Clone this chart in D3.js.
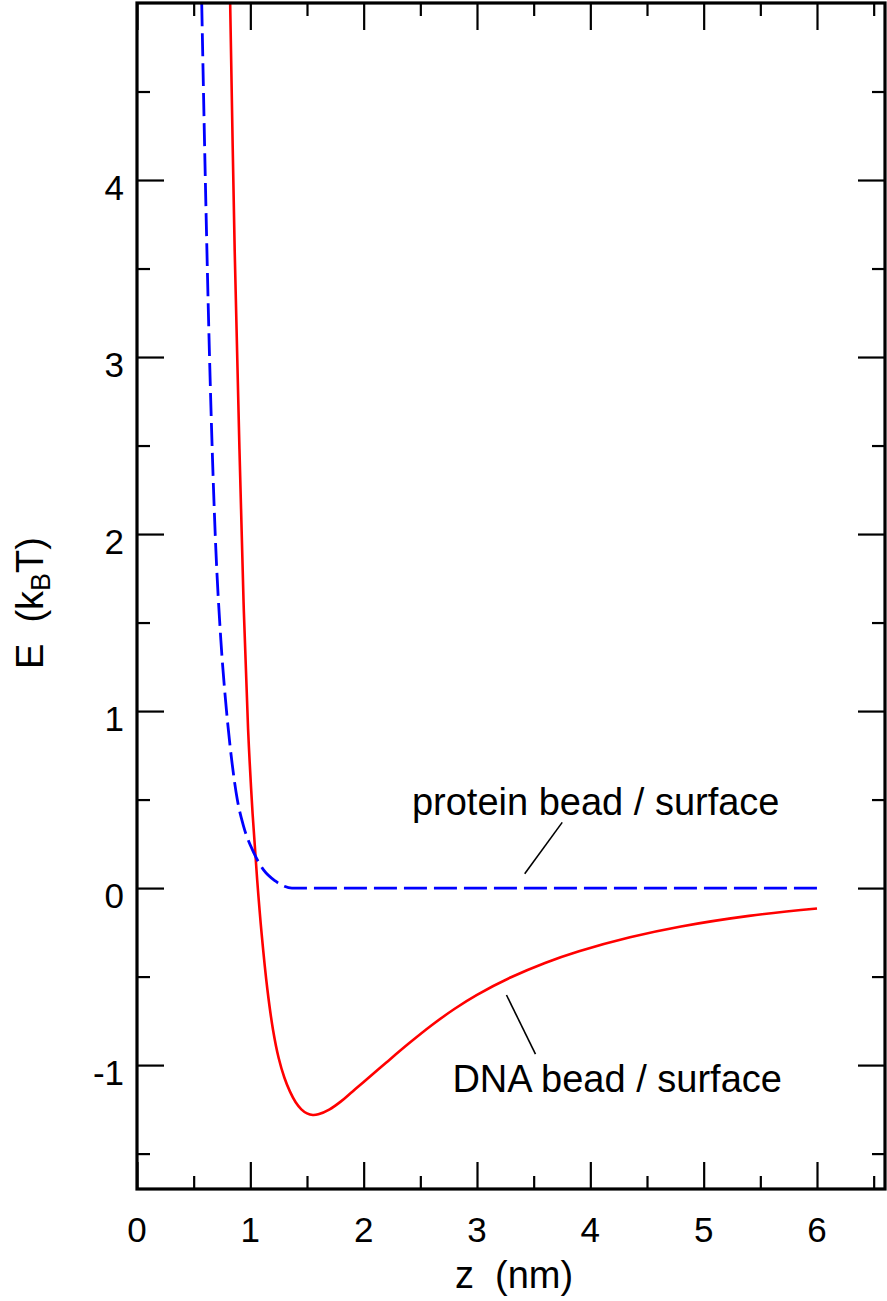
<!DOCTYPE html>
<html>
<head>
<meta charset="utf-8">
<script src="https://cdn.jsdelivr.net/npm/d3@7"></script>
<style>
  html, body { margin: 0; padding: 0; background: #fff; }
  svg { display: block; }
  text { font-family: "Liberation Sans", Arial, Helvetica, sans-serif; fill: #000; }
</style>
</head>
<body>
<svg id="chart" width="887" height="1301"></svg>
<script>
// Interaction energy of a bead with the surface vs. distance z (nm)
const xDomain = [0, 6.6];
const yDomain = [-1.7, 5];
const xMajorTicks = [0, 1, 2, 3, 4, 5, 6];
const xMinorTicks = [0.5, 1.5, 2.5, 3.5, 4.5, 5.5, 6.5];
const yMajorTicks = [-1, 0, 1, 2, 3, 4];
const yMinorTicks = [-1.5, -0.5, 0.5, 1.5, 2.5, 3.5, 4.5];
const xTickLabels = ["0", "1", "2", "3", "4", "5", "6"];
const yTickLabels = ["-1", "0", "1", "2", "3", "4"];

// protein bead / surface (blue, dashed)
const proteinZ = [0.571, 0.603, 0.640, 0.690, 0.740, 0.790, 0.840, 0.885, 0.940, 1.030, 1.120, 1.220, 1.300, 1.367, 2.0, 3.0, 4.0, 5.0, 6.0];
const proteinE = [5.0, 4.0, 3.0, 2.0, 1.4, 1.0, 0.7, 0.5, 0.35, 0.2, 0.1, 0.04, 0.01, 0.0, 0.0, 0.0, 0.0, 0.0, 0.0];

// DNA bead / surface (red, solid)
const dnaZ = [0.822, 0.862, 0.904, 0.940, 0.980, 1.020, 1.060, 1.100, 1.150, 1.200, 1.250, 1.300, 1.350, 1.400, 1.450, 1.500, 1.552,
              1.600, 1.700, 1.800, 1.900, 2.000, 2.200, 2.400, 2.600, 2.800, 3.000, 3.300, 3.600, 3.900, 4.350, 4.800, 5.400, 6.000];
const dnaE = [5.0, 3.6, 2.48, 1.62, 0.90, 0.42, 0.05, -0.26, -0.57, -0.80, -0.96, -1.07, -1.15, -1.21, -1.25, -1.273, -1.282,
              -1.278, -1.250, -1.205, -1.150, -1.095, -0.985, -0.877, -0.775, -0.683, -0.603, -0.504, -0.423, -0.357, -0.278, -0.217, -0.157, -0.115];

// curve labels with leader lines (data units)
const labels = [
  { text: "protein bead / surface", z: 2.426, e: 0.415, from: [3.752, 0.371], to: [3.421, 0.081] },
  { text: "DNA bead / surface", z: 2.783, e: -1.150, from: [3.260, -0.604], to: [3.516, -0.938] }
];

const plotLeft = 137, plotRight = 885, plotTop = 3, plotBottom = 1189;
const svg = d3.select("#chart");

const x = d3.scaleLinear().domain(xDomain).range([plotLeft, plotRight]);
const y = d3.scaleLinear().domain(yDomain).range([plotBottom, plotTop]);

svg.append("defs").append("clipPath").attr("id", "plot-clip")
  .append("rect").attr("x", plotLeft).attr("y", plotTop)
  .attr("width", plotRight - plotLeft).attr("height", plotBottom - plotTop);

// curves
const smoothLine = d3.line().x(d => x(d[0])).y(d => y(d[1])).curve(d3.curveCatmullRom.alpha(0.5));
const monoLine = d3.line().x(d => x(d[0])).y(d => y(d[1])).curve(d3.curveMonotoneX);
const curves = svg.append("g").attr("clip-path", "url(#plot-clip)");

curves.append("path")
  .datum(dnaZ.map((z, i) => [z, dnaE[i]]))
  .attr("d", smoothLine)
  .attr("fill", "none")
  .attr("stroke", "#ff0000")
  .attr("stroke-width", 2.6);

curves.append("path")
  .datum(proteinZ.map((z, i) => [z, proteinE[i]]))
  .attr("d", monoLine)
  .attr("fill", "none")
  .attr("stroke", "#0000ff")
  .attr("stroke-width", 2.8)
  .attr("stroke-dasharray", "23,7");

// ticks on all four sides, pointing inward
const MAJOR = 27, MINOR = 13;
function tickAxis(axisFn, scale, values, size, transform) {
  const g = svg.append("g").attr("transform", transform)
    .call(axisFn(scale).tickValues(values).tickSize(-size).tickFormat(""));
  g.select(".domain").remove();
  g.selectAll(".tick line").attr("stroke", "#000").attr("stroke-width", 2.2);
  g.selectAll(".tick text").remove();
  return g;
}
tickAxis(d3.axisBottom, x, xMajorTicks, MAJOR, `translate(0,${plotBottom})`);
tickAxis(d3.axisBottom, x, xMinorTicks, MINOR, `translate(0,${plotBottom})`);
tickAxis(d3.axisTop, x, xMajorTicks, MAJOR, `translate(0,${plotTop})`);
tickAxis(d3.axisTop, x, xMinorTicks, MINOR, `translate(0,${plotTop})`);
tickAxis(d3.axisLeft, y, yMajorTicks, MAJOR, `translate(${plotLeft},0)`);
tickAxis(d3.axisLeft, y, yMinorTicks, MINOR, `translate(${plotLeft},0)`);
tickAxis(d3.axisRight, y, yMajorTicks, MAJOR, `translate(${plotRight},0)`);
tickAxis(d3.axisRight, y, yMinorTicks, MINOR, `translate(${plotRight},0)`);

// frame
svg.append("rect")
  .attr("x", plotLeft).attr("y", plotTop)
  .attr("width", plotRight - plotLeft).attr("height", plotBottom - plotTop)
  .attr("fill", "none").attr("stroke", "#000").attr("stroke-width", 3.2);

// tick labels
svg.append("g").selectAll("text")
  .data(xMajorTicks)
  .join("text")
  .attr("x", d => x(d))
  .attr("y", plotBottom + 53)
  .attr("text-anchor", "middle")
  .attr("font-size", 35)
  .text((d, i) => xTickLabels[i]);

svg.append("g").selectAll("text")
  .data(yMajorTicks)
  .join("text")
  .attr("x", plotLeft - 13)
  .attr("y", d => y(d) + 20)
  .attr("text-anchor", "end")
  .attr("font-size", 35)
  .text((d, i) => yTickLabels[i]);

// axis titles
svg.append("text")
  .attr("x", 514).attr("y", 1288)
  .attr("text-anchor", "middle")
  .attr("font-size", 38)
  .attr("xml:space", "preserve")
  .text("z  (nm)");

const yt = svg.append("text")
  .attr("transform", "translate(43,603) rotate(-90)")
  .attr("text-anchor", "middle")
  .attr("font-size", 38)
  .attr("xml:space", "preserve");
yt.append("tspan").text("E  (k");
yt.append("tspan").attr("font-size", 27).attr("dy", 7).text("B");
yt.append("tspan").attr("dy", -7).text("T)");

// curve labels
labels.forEach(l => {
  svg.append("text")
    .attr("x", x(l.z)).attr("y", y(l.e))
    .attr("font-size", 38)
    .text(l.text);
  svg.append("line")
    .attr("x1", x(l.from[0])).attr("y1", y(l.from[1]))
    .attr("x2", x(l.to[0])).attr("y2", y(l.to[1]))
    .attr("stroke", "#000").attr("stroke-width", 1.6);
});
</script>
</body>
</html>
